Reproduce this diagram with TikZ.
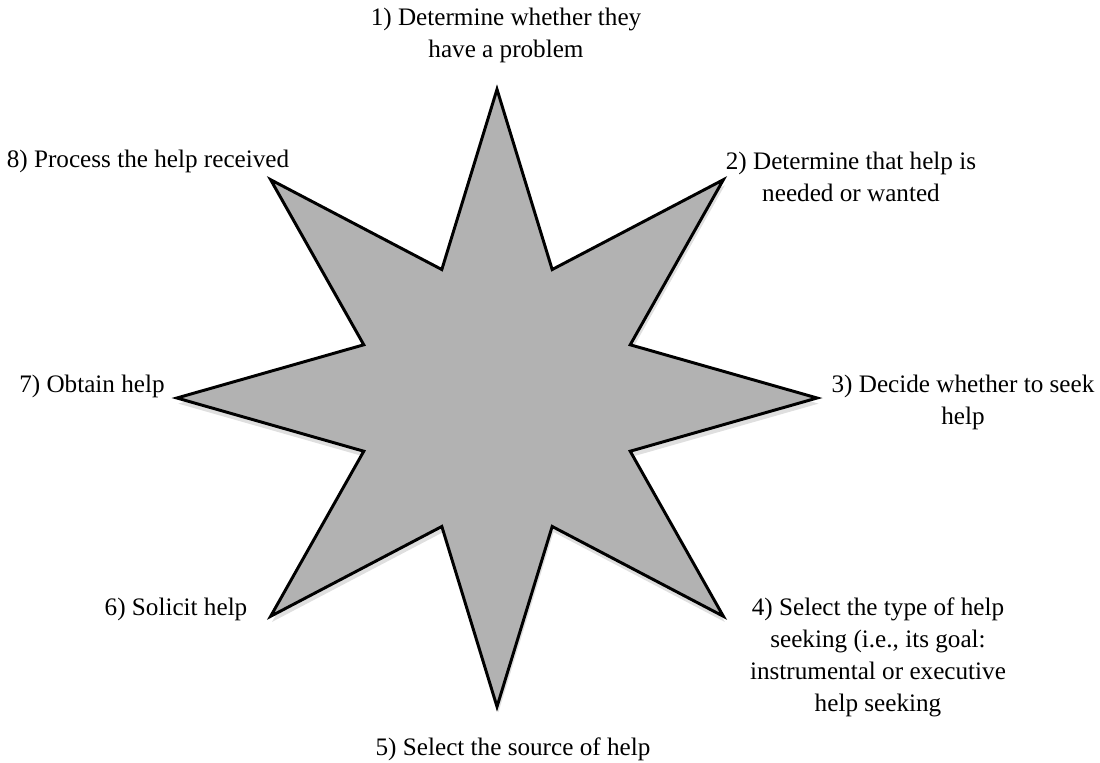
\documentclass[tikz,border=0pt]{standalone}
\usepackage{fontspec}
\setmainfont{Liberation Serif}
\usetikzlibrary{shapes.geometric, shadows}

\begin{document}
\begin{tikzpicture}[
    x=0.025cm, y=-0.025cm,
    stage/.style={align=center, inner sep=0pt, font=\fontsize{17.9}{22.8}\selectfont},
    bigstar/.style={star, star points=8, star point ratio=2.22, minimum size=15.43cm,
        inner sep=0pt, draw=black, line width=2.1pt, fill=black!30,
        drop shadow={opacity=0.25, shadow xshift=1pt, shadow yshift=-4pt}}
]
\useasboundingbox (0,0) rectangle (1100,763);

\node[bigstar, xscale=1.037, transform shape] (helpstar) at (497,398) {};

\node[stage] (problem) at (506,35) {1) Determine whether they\\have a problem};
\node[stage] (needed) at (851,177) {2) Determine that help is\\needed or wanted};
\node[stage] (decide) at (963,402) {3) Decide whether to seek\\help};
\node[stage] (type) at (878,657) {4) Select the type of help\\seeking (i.e., its goal:\\instrumental or executive\\help seeking};
\node[stage] (source) at (513,749) {5) Select the source of help};
\node[stage] (solicit) at (176,609) {6) Solicit help};
\node[stage] (obtain) at (92,386) {7) Obtain help};
\node[stage] (process) at (148,161) {8) Process the help received};

\end{tikzpicture}
\end{document}
